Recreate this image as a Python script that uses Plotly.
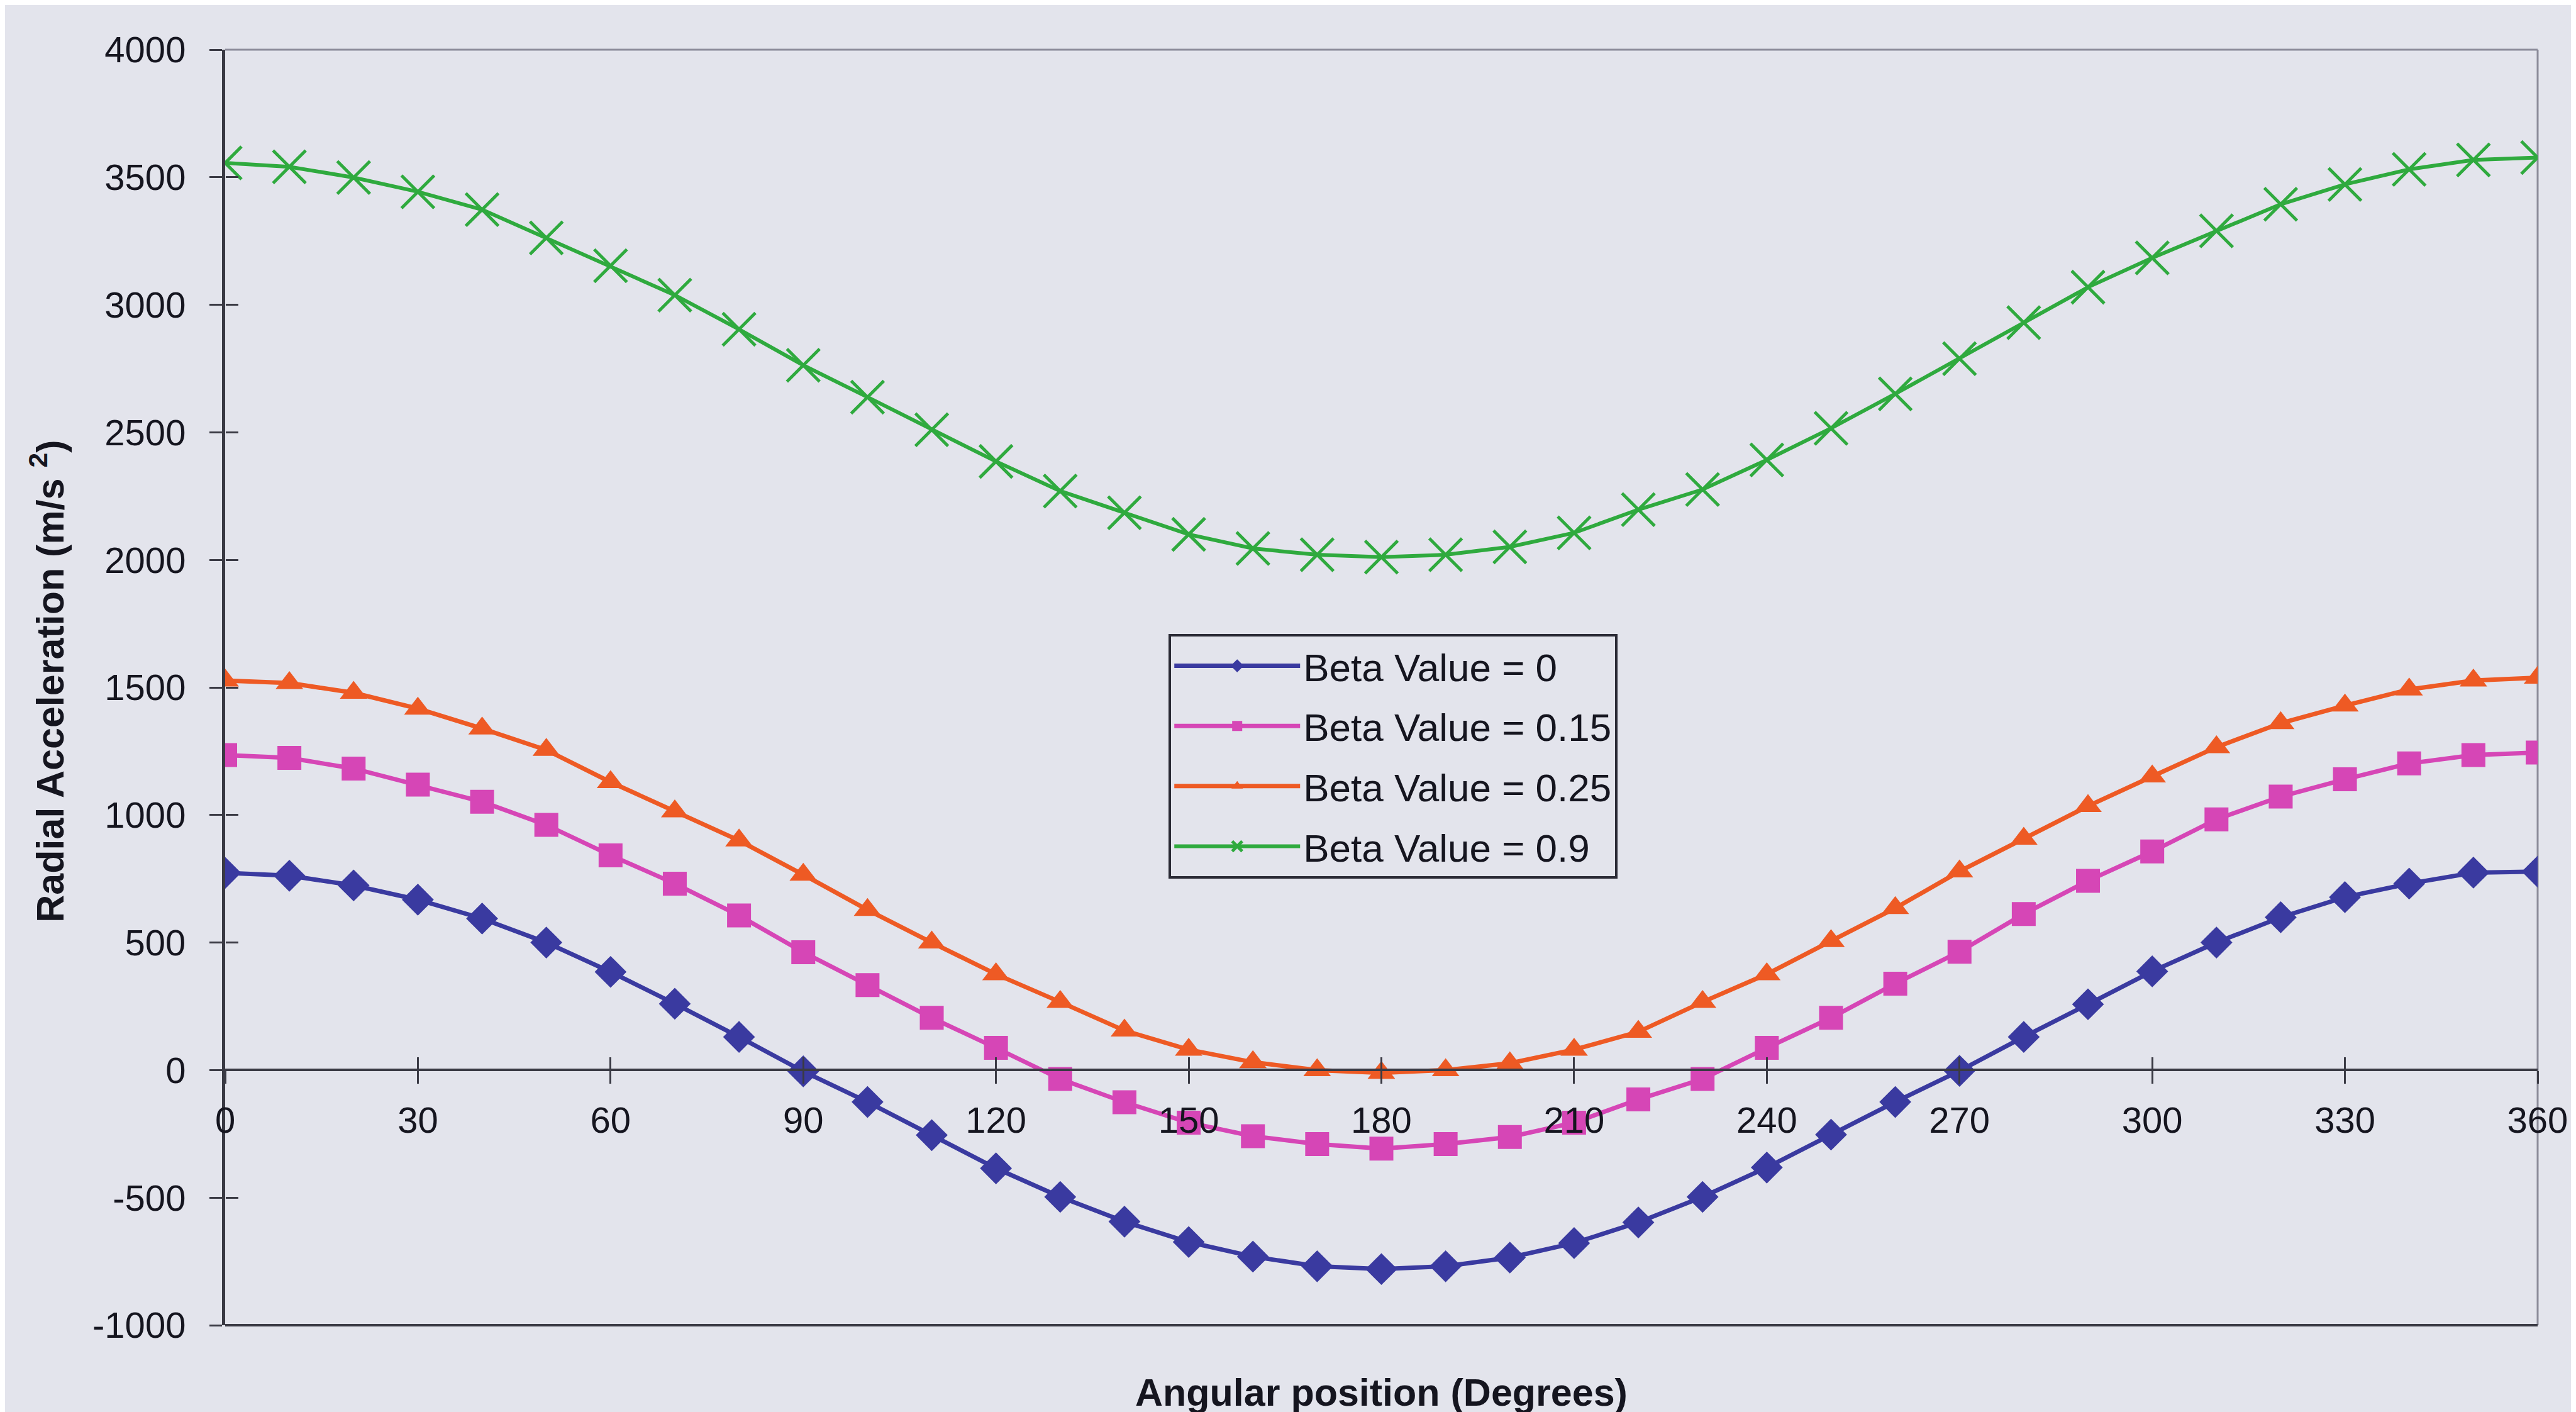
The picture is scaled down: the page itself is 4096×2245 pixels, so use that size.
import plotly.graph_objects as go

# ---------------- data ----------------
angles = list(range(0, 361, 10))

beta_0 = [773, 762, 724, 668, 594, 500, 385, 260, 130, -5,
          -125, -255, -385, -497, -594, -674, -731, -769, -780, -769,
          -735, -678, -597, -497, -382, -253, -125, -3, 130, 258,
          387, 500, 599, 678, 731, 774, 778]

beta_015 = [1235, 1224, 1182, 1119, 1052, 961, 842, 731, 606, 462,
            333, 205, 87, -35, -126, -206, -259, -290, -308, -290,
            -262, -206, -115, -35, 87, 205, 339, 464, 612, 742,
            857, 983, 1072, 1140, 1202, 1235, 1245]

beta_025 = [1527, 1517, 1479, 1417, 1339, 1255, 1129, 1014, 900, 766,
            628, 500, 376, 267, 155, 80, 31, 0, -11, 0,
            27, 80, 150, 267, 376, 506, 635, 779, 907, 1035,
            1151, 1266, 1360, 1429, 1492, 1527, 1538]

beta_09 = [3556, 3541, 3499, 3443, 3373, 3262, 3153, 3038, 2904, 2763,
           2638, 2510, 2386, 2270, 2185, 2100, 2045, 2020, 2011, 2020,
           2051, 2106, 2197, 2276, 2392, 2516, 2651, 2789, 2930, 3069,
           3184, 3290, 3394, 3472, 3531, 3568, 3577]

series_names = ["Beta Value = 0", "Beta Value = 0.15", "Beta Value = 0.25", "Beta Value = 0.9"]
x_ticks = [0, 30, 60, 90, 120, 150, 180, 210, 240, 270, 300, 330, 360]
y_ticks = [-1000, -500, 0, 500, 1000, 1500, 2000, 2500, 3000, 3500, 4000]

# ---------------- styling ----------------
BG = "#E3E4EC"
FONT = "Liberation Sans, Arial, sans-serif"
TXT = "#15151f"

styles = [
    dict(color="#3A3AA0", symbol="diamond", size=39, lw=7),
    dict(color="#D646B6", symbol="square", size=38, lw=7),
    dict(color="#EE5A24", symbol="triangle-up", size=38, lw=7),
    dict(color="#2FAA3E", symbol="x-thin", size=52, lw=6),
]

fig = go.Figure()
for i, (name, vals) in enumerate(zip(series_names, [beta_0, beta_015, beta_025, beta_09])):
    st = styles[i]
    marker = dict(symbol=st["symbol"], size=st["size"], color=st["color"])
    if st["symbol"] == "x-thin":
        marker["line"] = dict(color=st["color"], width=5)
    else:
        marker["line"] = dict(width=0)
    fig.add_trace(go.Scatter(
        x=angles, y=vals, mode="lines+markers", name=name,
        line=dict(color=st["color"], width=st["lw"]),
        marker=marker, legendgroup=f"g{i}",
    ))

# dummy trace on overlay axes (used only to draw the inner half of the crossing ticks)
fig.add_trace(go.Scatter(x=[None], y=[None], xaxis="x2", yaxis="y2",
                         showlegend=False, hoverinfo="skip"))

axis_font = dict(family=FONT, size=58, color=TXT)

fig.update_layout(
    width=4096, height=2245, autosize=False,
    paper_bgcolor=BG, plot_bgcolor=BG,
    margin=dict(l=350, r=69, t=71, b=146),
    font=dict(family=FONT, color=TXT),
    xaxis=dict(range=[0, 360], tickvals=x_ticks, ticktext=[str(v) for v in x_ticks],
               anchor="free", position=0.2,
               showline=True, linecolor="#3a3a44", linewidth=4,
               ticks="outside", ticklen=20, tickwidth=3, tickcolor="#3a3a44",
               tickfont=axis_font, ticklabelstandoff=8,
               showgrid=False, zeroline=False),
    yaxis=dict(range=[-1000, 4000], tickvals=y_ticks, ticktext=[str(v) for v in y_ticks],
               showline=True, linecolor="#3a3a44", linewidth=5,
               ticks="outside", ticklen=20, tickwidth=3, tickcolor="#3a3a44",
               tickfont=axis_font, ticklabelstandoff=26,
               showgrid=False, zeroline=False),
    xaxis2=dict(range=[0, 360], tickvals=x_ticks, overlaying="x", anchor="free", position=0.2,
                ticks="inside", ticklen=20, tickwidth=3, tickcolor="#3a3a44",
                showticklabels=False, showline=False, showgrid=False, zeroline=False),
    yaxis2=dict(range=[-1000, 4000], tickvals=y_ticks, overlaying="y", anchor="free", position=0,
                side="left", ticks="inside", ticklen=20, tickwidth=3, tickcolor="#3a3a44",
                showticklabels=False, showline=False, showgrid=False, zeroline=False),
    legend=dict(x=0.408, y=0.542, xanchor="left", yanchor="top",
                bgcolor=BG, bordercolor="#2a2a35", borderwidth=4,
                font=dict(family=FONT, size=62, color=TXT),
                tracegroupgap=12, itemsizing="trace", itemwidth=200,
                traceorder="grouped"),
    showlegend=True,
)

# plot-area frame (top / right light, bottom dark)
fig.add_shape(type="line", xref="paper", yref="paper", x0=0, x1=1, y0=1, y1=1,
              line=dict(color="#8c8c9a", width=3), layer="below")
fig.add_shape(type="line", xref="paper", yref="paper", x0=1, x1=1, y0=0, y1=1,
              line=dict(color="#8c8c9a", width=3), layer="below")
fig.add_shape(type="line", xref="paper", yref="paper", x0=0, x1=1, y0=0, y1=0,
              line=dict(color="#3a3a44", width=4), layer="below")

# axis titles
fig.add_annotation(text="<b>Angular position (Degrees)</b>", xref="paper", yref="paper",
                   x=0.5, y=-0.053, xanchor="center", yanchor="middle", showarrow=False,
                   font=dict(family=FONT, size=61, color=TXT))
fig.add_annotation(text="<b>Radial Acceleration (m/s <sup>2</sup>)</b>", xref="paper", yref="paper",
                   x=-0.077, y=0.505, xanchor="center", yanchor="middle", textangle=-90,
                   showarrow=False, font=dict(family=FONT, size=61, color=TXT))

fig.write_html("out.html")
